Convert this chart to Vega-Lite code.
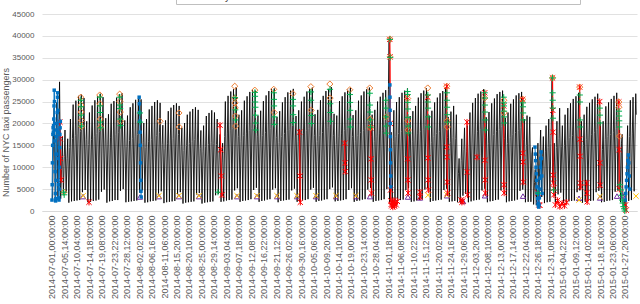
{
"$schema":"https://vega.github.io/schema/vega-lite/v6.json",
"autosize":{"type":"none"},
"width":595,"height":197,
"padding":{"left":42,"top":14,"right":3,"bottom":93},
"background":"white",
"config":{"view":{"stroke":null},"font":"Liberation Sans",
"legend":{"orient":"none","legendX":134,"legendY":-25,"direction":"horizontal","columns":7,"labelFontSize":10,"labelColor":"#404040","symbolSize":30,"symbolStrokeWidth":1,"padding":2,"strokeColor":"#bfbfbf","fillColor":"#ffffff","columnPadding":10,"labelOffset":3}},
"datasets":{
"main":[{"h":5,"v":2300},{"h":13,"v":16200},{"h":19,"v":23500},{"h":29,"v":2400},{"h":37,"v":17000},{"h":43,"v":24800},{"h":53,"v":2500},{"h":61,"v":17800},{"h":67,"v":29500},{"h":77,"v":2800},{"h":85,"v":9500},{"h":91,"v":17000},{"h":101,"v":4000},{"h":109,"v":12500},{"h":115,"v":18500},{"h":125,"v":4200},{"h":133,"v":12000},{"h":139,"v":16500},{"h":149,"v":1900},{"h":157,"v":14500},{"h":163,"v":21000},
{"h":173,"v":2200},{"h":181,"v":16600},{"h":187,"v":24300},{"h":197,"v":2300},{"h":205,"v":17200},{"h":211,"v":25200},{"h":221,"v":2400},{"h":229,"v":17600},{"h":235,"v":26300},{"h":245,"v":2500},{"h":253,"v":18200},{"h":259,"v":26600},{"h":269,"v":4300},{"h":277,"v":19000},{"h":283,"v":25800},{"h":293,"v":4800},{"h":301,"v":16300},{"h":307,"v":20500},{"h":317,"v":2000},{"h":325,"v":15200},{"h":331,"v":22500},
{"h":341,"v":2100},{"h":349,"v":16400},{"h":355,"v":24100},{"h":365,"v":2300},{"h":373,"v":17100},{"h":379,"v":25300},{"h":389,"v":2400},{"h":397,"v":17700},{"h":403,"v":26200},{"h":413,"v":2600},{"h":421,"v":18100},{"h":427,"v":26800},{"h":437,"v":4400},{"h":445,"v":19100},{"h":451,"v":26000},{"h":461,"v":4900},{"h":469,"v":16200},{"h":475,"v":21200},{"h":485,"v":1900},{"h":493,"v":15100},{"h":499,"v":22100},
{"h":509,"v":2200},{"h":517,"v":16700},{"h":523,"v":24500},{"h":533,"v":2300},{"h":541,"v":16900},{"h":547,"v":25100},{"h":557,"v":2500},{"h":565,"v":17400},{"h":571,"v":25900},{"h":581,"v":2500},{"h":589,"v":18000},{"h":595,"v":26700},{"h":605,"v":4600},{"h":613,"v":19200},{"h":619,"v":26900},{"h":629,"v":5000},{"h":637,"v":16000},{"h":643,"v":20700},{"h":653,"v":2000},{"h":661,"v":14800},{"h":667,"v":21800},
{"h":677,"v":2100},{"h":685,"v":16100},{"h":691,"v":23700},{"h":701,"v":2200},{"h":709,"v":16600},{"h":715,"v":24600},{"h":725,"v":2300},{"h":733,"v":17100},{"h":739,"v":25400},{"h":749,"v":2400},{"h":757,"v":17500},{"h":763,"v":25700},{"h":773,"v":4200},{"h":781,"v":18300},{"h":787,"v":25500},{"h":797,"v":4700},{"h":805,"v":15700},{"h":811,"v":20100},{"h":821,"v":1900},{"h":829,"v":14500},{"h":835,"v":21000},
{"h":845,"v":2000},{"h":853,"v":15800},{"h":859,"v":23200},{"h":869,"v":2200},{"h":877,"v":16300},{"h":883,"v":24000},{"h":893,"v":2300},{"h":901,"v":16900},{"h":907,"v":24900},{"h":917,"v":2400},{"h":925,"v":17200},{"h":931,"v":25300},{"h":941,"v":4000},{"h":949,"v":17900},{"h":955,"v":24700},{"h":965,"v":4500},{"h":973,"v":15200},{"h":979,"v":19600},{"h":989,"v":1800},{"h":997,"v":14200},{"h":1003,"v":20700},
{"h":1013,"v":2000},{"h":1021,"v":15500},{"h":1027,"v":22800},{"h":1037,"v":2100},{"h":1045,"v":16000},{"h":1051,"v":23600},{"h":1061,"v":2200},{"h":1069,"v":16500},{"h":1075,"v":24200},{"h":1085,"v":2300},{"h":1093,"v":16900},{"h":1099,"v":24600},{"h":1109,"v":3900},{"h":1117,"v":17500},{"h":1123,"v":24000},{"h":1133,"v":4300},{"h":1141,"v":14800},{"h":1147,"v":19000},{"h":1157,"v":1700},{"h":1165,"v":13800},{"h":1171,"v":20100},
{"h":1181,"v":1900},{"h":1189,"v":15000},{"h":1195,"v":22000},{"h":1205,"v":2000},{"h":1213,"v":15400},{"h":1219,"v":22700},{"h":1229,"v":2100},{"h":1237,"v":15900},{"h":1243,"v":23300},{"h":1253,"v":2200},{"h":1261,"v":16300},{"h":1267,"v":23700},{"h":1277,"v":3800},{"h":1285,"v":16900},{"h":1291,"v":23100},{"h":1301,"v":4100},{"h":1309,"v":14300},{"h":1315,"v":18400},{"h":1325,"v":1700},{"h":1333,"v":13500},{"h":1339,"v":19500},
{"h":1349,"v":1900},{"h":1357,"v":14800},{"h":1363,"v":21700},{"h":1373,"v":2000},{"h":1381,"v":15200},{"h":1387,"v":22400},{"h":1397,"v":2100},{"h":1405,"v":15600},{"h":1411,"v":23000},{"h":1421,"v":2200},{"h":1429,"v":15500},{"h":1435,"v":22500},{"h":1445,"v":3600},{"h":1453,"v":15200},{"h":1459,"v":21000},{"h":1469,"v":3900},{"h":1477,"v":13000},{"h":1483,"v":17500},{"h":1493,"v":2100},{"h":1501,"v":11000},{"h":1507,"v":15500},
{"h":1517,"v":2200},{"h":1525,"v":17000},{"h":1531,"v":25000},{"h":1541,"v":2400},{"h":1549,"v":17800},{"h":1555,"v":26300},{"h":1565,"v":2500},{"h":1573,"v":18300},{"h":1579,"v":27300},{"h":1589,"v":2600},{"h":1597,"v":18800},{"h":1603,"v":27800},{"h":1613,"v":4700},{"h":1621,"v":19700},{"h":1627,"v":28300},{"h":1637,"v":5200},{"h":1645,"v":17000},{"h":1651,"v":22000},{"h":1661,"v":2100},{"h":1669,"v":15800},{"h":1675,"v":23000},
{"h":1685,"v":2300},{"h":1693,"v":17300},{"h":1699,"v":25200},{"h":1709,"v":2400},{"h":1717,"v":17800},{"h":1723,"v":26200},{"h":1733,"v":2500},{"h":1741,"v":18400},{"h":1747,"v":27200},{"h":1757,"v":2700},{"h":1765,"v":18900},{"h":1771,"v":27700},{"h":1781,"v":4800},{"h":1789,"v":19800},{"h":1795,"v":27500},{"h":1805,"v":5300},{"h":1813,"v":17100},{"h":1819,"v":21800},{"h":1829,"v":2100},{"h":1837,"v":15700},{"h":1843,"v":22900},
{"h":1853,"v":2300},{"h":1861,"v":17200},{"h":1867,"v":25100},{"h":1877,"v":2400},{"h":1885,"v":17900},{"h":1891,"v":26400},{"h":1901,"v":2600},{"h":1909,"v":18500},{"h":1915,"v":27400},{"h":1925,"v":2700},{"h":1933,"v":18800},{"h":1939,"v":27900},{"h":1949,"v":4900},{"h":1957,"v":19600},{"h":1963,"v":28000},{"h":1973,"v":5200},{"h":1981,"v":16800},{"h":1987,"v":21500},{"h":1997,"v":2000},{"h":2005,"v":15600},{"h":2011,"v":22800},
{"h":2021,"v":2300},{"h":2029,"v":17000},{"h":2035,"v":24800},{"h":2045,"v":2400},{"h":2053,"v":17700},{"h":2059,"v":26000},{"h":2069,"v":2500},{"h":2077,"v":18300},{"h":2083,"v":27100},{"h":2093,"v":2600},{"h":2101,"v":18700},{"h":2107,"v":27500},{"h":2117,"v":4700},{"h":2125,"v":19500},{"h":2131,"v":27900},{"h":2141,"v":5100},{"h":2149,"v":16900},{"h":2155,"v":21700},{"h":2165,"v":2100},{"h":2173,"v":15800},{"h":2179,"v":23000},
{"h":2189,"v":2200},{"h":2197,"v":17100},{"h":2203,"v":25000},{"h":2213,"v":2400},{"h":2221,"v":17800},{"h":2227,"v":26100},{"h":2237,"v":2500},{"h":2245,"v":18400},{"h":2251,"v":27300},{"h":2261,"v":2700},{"h":2269,"v":18900},{"h":2275,"v":27800},{"h":2285,"v":4900},{"h":2293,"v":19700},{"h":2299,"v":28200},{"h":2309,"v":5300},{"h":2317,"v":17200},{"h":2323,"v":22100},{"h":2333,"v":2100},{"h":2341,"v":15900},{"h":2347,"v":23100},
{"h":2357,"v":2300},{"h":2365,"v":17200},{"h":2371,"v":25300},{"h":2381,"v":2400},{"h":2389,"v":17900},{"h":2395,"v":26300},{"h":2405,"v":2600},{"h":2413,"v":18500},{"h":2419,"v":27400},{"h":2429,"v":2700},{"h":2437,"v":19000},{"h":2443,"v":27900},{"h":2453,"v":5000},{"h":2461,"v":19800},{"h":2467,"v":28300},{"h":2477,"v":5400},{"h":2485,"v":17300},{"h":2491,"v":22200},{"h":2501,"v":2200},{"h":2509,"v":15200},{"h":2515,"v":21800},
{"h":2525,"v":2300},{"h":2533,"v":17100},{"h":2539,"v":25100},{"h":2549,"v":2400},{"h":2557,"v":17800},{"h":2563,"v":26200},{"h":2573,"v":2500},{"h":2581,"v":18400},{"h":2587,"v":27100},{"h":2597,"v":2700},{"h":2605,"v":18800},{"h":2611,"v":27700},{"h":2621,"v":4800},{"h":2629,"v":19600},{"h":2635,"v":28100},{"h":2645,"v":5200},{"h":2653,"v":17000},{"h":2659,"v":21900},{"h":2669,"v":2100},{"h":2677,"v":15800},{"h":2683,"v":23000},
{"h":2693,"v":2300},{"h":2701,"v":17200},{"h":2707,"v":25200},{"h":2717,"v":2400},{"h":2725,"v":17900},{"h":2731,"v":26400},{"h":2741,"v":2600},{"h":2749,"v":18400},{"h":2755,"v":27300},{"h":2765,"v":2700},{"h":2773,"v":18900},{"h":2779,"v":27800},{"h":2789,"v":4900},{"h":2797,"v":19800},{"h":2803,"v":28200},{"h":2813,"v":5300},{"h":2821,"v":17100},{"h":2827,"v":22000},{"h":2837,"v":2100},{"h":2845,"v":15900},{"h":2851,"v":23100},
{"h":2861,"v":2300},{"h":2869,"v":17100},{"h":2875,"v":25000},{"h":2885,"v":2400},{"h":2893,"v":17800},{"h":2899,"v":26100},{"h":2909,"v":2500},{"h":2917,"v":18300},{"h":2923,"v":27000},{"h":2933,"v":2700},{"h":2941,"v":18800},{"h":2947,"v":27600},{"h":2957,"v":5000},{"h":2965,"v":19600},{"h":2971,"v":27800},{"h":2977,"v":39200},{"h":2978,"v":35200},{"h":2981,"v":2000},{"h":2989,"v":13500},{"h":2995,"v":18000},{"h":3005,"v":2000},{"h":3013,"v":15800},{"h":3019,"v":23000},
{"h":3029,"v":2300},{"h":3037,"v":17000},{"h":3043,"v":24900},{"h":3053,"v":2400},{"h":3061,"v":17700},{"h":3067,"v":26000},{"h":3077,"v":2500},{"h":3085,"v":18200},{"h":3091,"v":27000},{"h":3101,"v":2600},{"h":3109,"v":18700},{"h":3115,"v":27500},{"h":3125,"v":4800},{"h":3133,"v":19500},{"h":3139,"v":28000},{"h":3149,"v":5200},{"h":3157,"v":16900},{"h":3163,"v":21700},{"h":3173,"v":2100},{"h":3181,"v":15800},{"h":3187,"v":22800},
{"h":3197,"v":2200},{"h":3205,"v":16200},{"h":3211,"v":24000},{"h":3221,"v":2400},{"h":3229,"v":17600},{"h":3235,"v":25900},{"h":3245,"v":2500},{"h":3253,"v":18200},{"h":3259,"v":26900},{"h":3269,"v":2700},{"h":3277,"v":18700},{"h":3283,"v":27500},{"h":3293,"v":4900},{"h":3301,"v":19600},{"h":3307,"v":28000},{"h":3317,"v":5200},{"h":3325,"v":16900},{"h":3331,"v":21800},{"h":3341,"v":2100},{"h":3349,"v":15700},{"h":3355,"v":22900},
{"h":3365,"v":2300},{"h":3373,"v":17000},{"h":3379,"v":24800},{"h":3389,"v":2400},{"h":3397,"v":17700},{"h":3403,"v":25900},{"h":3413,"v":2500},{"h":3421,"v":18200},{"h":3427,"v":26900},{"h":3437,"v":2600},{"h":3445,"v":18700},{"h":3451,"v":27400},{"h":3461,"v":4800},{"h":3469,"v":19500},{"h":3475,"v":28300},{"h":3485,"v":5100},{"h":3493,"v":16800},{"h":3499,"v":21500},{"h":3509,"v":2100},{"h":3517,"v":15600},{"h":3523,"v":22700},
{"h":3533,"v":2200},{"h":3541,"v":16800},{"h":3547,"v":24000},{"h":3557,"v":2300},{"h":3565,"v":16500},{"h":3571,"v":22000},{"h":3581,"v":2000},{"h":3589,"v":8500},{"h":3595,"v":12000},{"h":3605,"v":1900},{"h":3613,"v":11500},{"h":3619,"v":16500},{"h":3629,"v":3500},{"h":3637,"v":14000},{"h":3643,"v":19000},{"h":3653,"v":3900},{"h":3661,"v":13500},{"h":3667,"v":19500},{"h":3677,"v":2000},{"h":3685,"v":15300},{"h":3691,"v":22500},
{"h":3701,"v":2200},{"h":3709,"v":16900},{"h":3715,"v":24700},{"h":3725,"v":2400},{"h":3733,"v":17600},{"h":3739,"v":25800},{"h":3749,"v":2500},{"h":3757,"v":18100},{"h":3763,"v":26800},{"h":3773,"v":2600},{"h":3781,"v":18600},{"h":3787,"v":27300},{"h":3797,"v":4700},{"h":3805,"v":19400},{"h":3811,"v":27800},{"h":3821,"v":5100},{"h":3829,"v":16700},{"h":3835,"v":21400},{"h":3845,"v":2000},{"h":3853,"v":15500},{"h":3859,"v":22600},
{"h":3869,"v":2200},{"h":3877,"v":16900},{"h":3883,"v":24600},{"h":3893,"v":2300},{"h":3901,"v":17500},{"h":3907,"v":25700},{"h":3917,"v":2500},{"h":3925,"v":18100},{"h":3931,"v":26700},{"h":3941,"v":2600},{"h":3949,"v":18600},{"h":3955,"v":27200},{"h":3965,"v":4700},{"h":3973,"v":19300},{"h":3979,"v":27500},{"h":3989,"v":5000},{"h":3997,"v":16600},{"h":4003,"v":21300},{"h":4013,"v":2000},{"h":4021,"v":15400},{"h":4027,"v":22500},
{"h":4037,"v":2200},{"h":4045,"v":16800},{"h":4051,"v":24500},{"h":4061,"v":2300},{"h":4069,"v":17400},{"h":4075,"v":25500},{"h":4085,"v":2400},{"h":4093,"v":17900},{"h":4099,"v":26400},{"h":4109,"v":2600},{"h":4117,"v":18400},{"h":4123,"v":26900},{"h":4133,"v":4600},{"h":4141,"v":19100},{"h":4147,"v":27200},{"h":4157,"v":4900},{"h":4165,"v":16400},{"h":4171,"v":21000},{"h":4181,"v":2000},{"h":4189,"v":15000},{"h":4195,"v":21800},
{"h":4205,"v":2100},{"h":4213,"v":15500},{"h":4219,"v":21500},{"h":4229,"v":2100},{"h":4237,"v":13000},{"h":4243,"v":14500},{"h":4253,"v":1500},{"h":4261,"v":6500},{"h":4267,"v":9500},{"h":4277,"v":1300},{"h":4285,"v":10500},{"h":4291,"v":15500},{"h":4301,"v":2800},{"h":4309,"v":13000},{"h":4315,"v":18500},{"h":4325,"v":3200},{"h":4333,"v":12500},{"h":4339,"v":17000},{"h":4349,"v":1800},{"h":4357,"v":13500},{"h":4363,"v":19500},
{"h":4373,"v":2000},{"h":4381,"v":14500},{"h":4387,"v":21000},{"h":4397,"v":2100},{"h":4405,"v":15500},{"h":4411,"v":22000},{"h":4416,"v":30500},{"h":4417,"v":27000},{"h":4421,"v":6500},{"h":4429,"v":11000},{"h":4435,"v":15500},{"h":4445,"v":2000},{"h":4453,"v":14500},{"h":4459,"v":20500},{"h":4469,"v":3800},{"h":4477,"v":16500},{"h":4483,"v":23500},{"h":4493,"v":4200},{"h":4501,"v":14800},{"h":4507,"v":19500},{"h":4517,"v":1900},{"h":4525,"v":15000},{"h":4531,"v":22000},
{"h":4541,"v":2000},{"h":4549,"v":16200},{"h":4555,"v":23500},{"h":4565,"v":2200},{"h":4573,"v":16800},{"h":4579,"v":24600},{"h":4589,"v":2300},{"h":4597,"v":17300},{"h":4603,"v":25600},{"h":4613,"v":2400},{"h":4621,"v":17800},{"h":4627,"v":26200},{"h":4637,"v":4300},{"h":4645,"v":18700},{"h":4651,"v":27000},{"h":4661,"v":4700},{"h":4669,"v":16000},{"h":4675,"v":20500},{"h":4685,"v":1900},{"h":4693,"v":15000},{"h":4699,"v":22000},
{"h":4709,"v":2100},{"h":4717,"v":16300},{"h":4723,"v":23800},{"h":4733,"v":2200},{"h":4741,"v":16900},{"h":4747,"v":24700},{"h":4757,"v":2300},{"h":4765,"v":17400},{"h":4771,"v":25500},{"h":4781,"v":2400},{"h":4789,"v":17900},{"h":4795,"v":26100},{"h":4805,"v":4300},{"h":4813,"v":18600},{"h":4819,"v":26800},{"h":4829,"v":4600},{"h":4837,"v":15800},{"h":4843,"v":20300},{"h":4853,"v":2000},{"h":4861,"v":14000},{"h":4867,"v":20500},
{"h":4877,"v":2100},{"h":4885,"v":16400},{"h":4891,"v":23900},{"h":4901,"v":2300},{"h":4909,"v":17000},{"h":4915,"v":24800},{"h":4925,"v":2400},{"h":4933,"v":17500},{"h":4939,"v":25600},{"h":4949,"v":2500},{"h":4957,"v":18000},{"h":4963,"v":26300},{"h":4973,"v":4400},{"h":4981,"v":18800},{"h":4987,"v":27000},{"h":4997,"v":4700},{"h":5005,"v":16000},{"h":5011,"v":20800},{"h":5021,"v":2000},{"h":5029,"v":15500},{"h":5035,"v":17500},{"h":5039,"v":6000},
{"h":5045,"v":400},{"h":5053,"v":1200},{"h":5059,"v":2500},{"h":5069,"v":900},{"h":5077,"v":13000},{"h":5083,"v":19500},{"h":5093,"v":2300},{"h":5101,"v":17000},{"h":5107,"v":25300},{"h":5117,"v":2500},{"h":5125,"v":17800},{"h":5131,"v":26000},{"h":5141,"v":4500},{"h":5149,"v":18500},{"h":5155,"v":26800},{"h":5159,"v":22000}],
"lo":[{"h":274,"v":3300,"m":"RePAD"},{"h":777,"v":3200,"m":"RePAD"},{"h":945,"v":3300,"m":"RePAD"},{"h":1121,"v":3300,"m":"RePAD"},{"h":1298,"v":3300,"m":"RePAD"},{"h":1634,"v":3300,"m":"RePAD"},{"h":1810,"v":3300,"m":"RePAD"},{"h":1987,"v":3300,"m":"RePAD"},{"h":2163,"v":3300,"m":"RePAD"},{"h":2331,"v":3300,"m":"RePAD"},{"h":2508,"v":3300,"m":"RePAD"},{"h":2684,"v":3300,"m":"RePAD"},{"h":2808,"v":3300,"m":"RePAD"},{"h":3143,"v":3200,"m":"RePAD"},{"h":3250,"v":3000,"m":"RePAD"},{"h":3488,"v":3500,"m":"RePAD"},{"h":3630,"v":2200,"m":"RePAD"},{"h":3823,"v":3500,"m":"RePAD"},{"h":4159,"v":3400,"m":"RePAD"},{"h":4654,"v":2900,"m":"RePAD"},{"h":4839,"v":3000,"m":"RePAD"},{"h":4989,"v":3400,"m":"RePAD"},{"h":5040,"v":3500,"m":"RePAD"},
{"h":276,"v":3500,"m":"ReRe"},{"h":945,"v":3500,"m":"ReRe"},{"h":1121,"v":3500,"m":"ReRe"},{"h":1298,"v":3500,"m":"ReRe"},{"h":1634,"v":3500,"m":"ReRe"},{"h":1810,"v":3500,"m":"ReRe"},{"h":1987,"v":3500,"m":"ReRe"},{"h":2163,"v":3500,"m":"ReRe"},{"h":2331,"v":3500,"m":"ReRe"},{"h":2508,"v":3500,"m":"ReRe"},{"h":2684,"v":3500,"m":"ReRe"},{"h":3320,"v":3600,"m":"ReRe"},{"h":3488,"v":3700,"m":"ReRe"},{"h":4654,"v":2500,"m":"ReRe"},{"h":4839,"v":3300,"m":"ReRe"},{"h":5157,"v":3400,"m":"ReRe"}],
"sarad":[{"h":70,"v":20300,"s":1,"m":"SARAD"},{"h":73,"v":16500,"s":1,"m":"SARAD"},{"h":76,"v":12000,"s":1,"m":"SARAD"},{"h":80,"v":7100,"s":1,"m":"SARAD"},
{"h":327,"v":2000,"s":2,"m":"SARAD"},
{"h":1484,"v":19600,"s":3,"m":"SARAD"},{"h":1490,"v":14000,"s":3,"m":"SARAD"},{"h":1496,"v":8000,"s":3,"m":"SARAD"},{"h":1501,"v":3700,"s":3,"m":"SARAD"},
{"h":2186,"v":18000,"s":4,"m":"SARAD"},{"h":2190,"v":8000,"s":4,"m":"SARAD"},{"h":2193,"v":2000,"s":4,"m":"SARAD"},
{"h":2585,"v":15500,"s":5,"m":"SARAD"},{"h":2588,"v":11000,"s":5,"m":"SARAD"},{"h":2590,"v":9000,"s":5,"m":"SARAD"},
{"h":2815,"v":19000,"s":6,"m":"SARAD"},{"h":2817,"v":11900,"s":6,"m":"SARAD"},{"h":2819,"v":7100,"s":6,"m":"SARAD"},{"h":2821,"v":4100,"s":6,"m":"SARAD"},
{"h":2983,"v":39200,"s":7,"m":"SARAD"},{"h":2985,"v":35200,"s":7,"m":"SARAD"},{"h":2988,"v":20000,"s":7,"m":"SARAD"},{"h":2990,"v":4800,"s":7,"m":"SARAD"},{"h":2992,"v":2300,"s":7,"m":"SARAD"},
{"h":2995,"v":1500,"s":8,"m":"SARAD"},{"h":3000,"v":1200,"s":8,"m":"SARAD"},{"h":3005,"v":2000,"s":8,"m":"SARAD"},{"h":3010,"v":900,"s":8,"m":"SARAD"},{"h":3015,"v":1600,"s":8,"m":"SARAD"},{"h":3020,"v":2400,"s":8,"m":"SARAD"},{"h":3025,"v":1100,"s":8,"m":"SARAD"},{"h":3030,"v":1900,"s":8,"m":"SARAD"},{"h":3040,"v":1400,"s":8,"m":"SARAD"},{"h":3050,"v":2200,"s":8,"m":"SARAD"},
{"h":3138,"v":25900,"s":9,"m":"SARAD"},{"h":3141,"v":11900,"s":9,"m":"SARAD"},{"h":3143,"v":7100,"s":9,"m":"SARAD"},{"h":3145,"v":4100,"s":9,"m":"SARAD"},
{"h":3250,"v":4300,"s":10,"m":"SARAD"},{"h":3252,"v":3200,"s":10,"m":"SARAD"},
{"h":3318,"v":26000,"s":11,"m":"SARAD"},{"h":3320,"v":12100,"s":11,"m":"SARAD"},{"h":3322,"v":7100,"s":11,"m":"SARAD"},{"h":3324,"v":4800,"s":11,"m":"SARAD"},
{"h":3486,"v":28500,"s":12,"m":"SARAD"},{"h":3487,"v":14600,"s":12,"m":"SARAD"},{"h":3489,"v":12300,"s":12,"m":"SARAD"},{"h":3491,"v":6600,"s":12,"m":"SARAD"},{"h":3493,"v":4100,"s":12,"m":"SARAD"},
{"h":3612,"v":2500,"s":13,"m":"SARAD"},{"h":3620,"v":2000,"s":13,"m":"SARAD"},{"h":3628,"v":2300,"s":13,"m":"SARAD"},
{"h":3665,"v":20300,"s":14,"m":"SARAD"},{"h":3667,"v":8900,"s":14,"m":"SARAD"},{"h":3669,"v":3700,"s":14,"m":"SARAD"},
{"h":3753,"v":12300,"s":15,"m":"SARAD"},
{"h":3821,"v":27000,"s":16,"m":"SARAD"},{"h":3823,"v":11600,"s":16,"m":"SARAD"},{"h":3825,"v":7100,"s":16,"m":"SARAD"},{"h":3827,"v":4100,"s":16,"m":"SARAD"},
{"h":3989,"v":24000,"s":17,"m":"SARAD"},{"h":3991,"v":6000,"s":17,"m":"SARAD"},{"h":3993,"v":4100,"s":17,"m":"SARAD"},
{"h":4157,"v":25500,"s":18,"m":"SARAD"},{"h":4158,"v":13200,"s":18,"m":"SARAD"},{"h":4160,"v":11200,"s":18,"m":"SARAD"},{"h":4162,"v":6600,"s":18,"m":"SARAD"},
{"h":4292,"v":4100,"s":19,"m":"SARAD"},{"h":4300,"v":1400,"s":19,"m":"SARAD"},{"h":4309,"v":1300,"s":19,"m":"SARAD"},
{"h":4420,"v":30400,"s":20,"m":"SARAD"},{"h":4422,"v":23000,"s":20,"m":"SARAD"},{"h":4424,"v":18000,"s":20,"m":"SARAD"},{"h":4426,"v":8200,"s":20,"m":"SARAD"},{"h":4428,"v":6400,"s":20,"m":"SARAD"},{"h":4430,"v":5200,"s":20,"m":"SARAD"},{"h":4432,"v":3700,"s":20,"m":"SARAD"},
{"h":4445,"v":1400,"s":21,"m":"SARAD"},{"h":4465,"v":2400,"s":21,"m":"SARAD"},{"h":4485,"v":1000,"s":21,"m":"SARAD"},{"h":4505,"v":1800,"s":21,"m":"SARAD"},{"h":4525,"v":1200,"s":21,"m":"SARAD"},{"h":4545,"v":2000,"s":21,"m":"SARAD"},
{"h":4660,"v":28300,"s":22,"m":"SARAD"},{"h":4662,"v":16400,"s":22,"m":"SARAD"},{"h":4664,"v":12500,"s":22,"m":"SARAD"},{"h":4666,"v":6400,"s":22,"m":"SARAD"},{"h":4668,"v":5500,"s":22,"m":"SARAD"},
{"h":4722,"v":6400,"s":23,"m":"SARAD"},{"h":4724,"v":4100,"s":23,"m":"SARAD"},{"h":4726,"v":2100,"s":23,"m":"SARAD"},
{"h":4837,"v":25000,"s":24,"m":"SARAD"},{"h":4839,"v":11000,"s":24,"m":"SARAD"},{"h":4841,"v":5900,"s":24,"m":"SARAD"},
{"h":5005,"v":24900,"s":25,"m":"SARAD"},{"h":5008,"v":14000,"s":25,"m":"SARAD"},{"h":5010,"v":5000,"s":25,"m":"SARAD"},
{"h":5065,"v":1400,"s":26,"m":"SARAD"},{"h":5070,"v":200,"s":26,"m":"SARAD"}],
"gv":[{"h":0,"v":2500,"s":1},{"h":2,"v":6000,"s":1},{"h":4,"v":11000,"s":1},{"h":6,"v":15000,"s":1},{"h":8,"v":17500,"s":1},{"h":10,"v":19000,"s":1},{"h":12,"v":18000,"s":1},{"h":14,"v":19500,"s":1},{"h":16,"v":21000,"s":1},{"h":18,"v":24000,"s":1},{"h":20,"v":27600,"s":1},{"h":22,"v":25000,"s":1},{"h":24,"v":20000,"s":1},{"h":26,"v":16000,"s":1},{"h":28,"v":9000,"s":1},{"h":30,"v":4000,"s":1},{"h":32,"v":2300,"s":1},{"h":34,"v":2800,"s":1},{"h":36,"v":7000,"s":1},{"h":38,"v":13000,"s":1},{"h":40,"v":17000,"s":1},{"h":42,"v":18500,"s":1},{"h":44,"v":20000,"s":1},{"h":46,"v":22500,"s":1},{"h":48,"v":26000,"s":1},{"h":50,"v":27000,"s":1},{"h":52,"v":23000,"s":1},{"h":54,"v":18000,"s":1},{"h":56,"v":12000,"s":1},{"h":58,"v":6000,"s":1},{"h":60,"v":3000,"s":1},{"h":62,"v":2500,"s":1},{"h":64,"v":5000,"s":1},{"h":66,"v":10000,"s":1},{"h":68,"v":14500,"s":1},{"h":70,"v":17500,"s":1},{"h":72,"v":19000,"s":1},{"h":74,"v":20500,"s":1},
{"h":770,"v":26000,"s":2},{"h":772,"v":24500,"s":2},{"h":774,"v":22500,"s":2},{"h":776,"v":20500,"s":2},{"h":778,"v":18000,"s":2},{"h":780,"v":15000,"s":2},{"h":782,"v":11000,"s":2},{"h":784,"v":7000,"s":2},{"h":786,"v":4500,"s":2},{"h":788,"v":3200,"s":2},
{"h":2984,"v":28800,"s":3},{"h":2985,"v":26000,"s":3},{"h":2986,"v":23000,"s":3},{"h":2987,"v":20000,"s":3},{"h":2988,"v":17000,"s":3},{"h":2989,"v":14000,"s":3},{"h":2990,"v":11000,"s":3},{"h":2991,"v":8000,"s":3},{"h":2992,"v":5500,"s":3},
{"h":4265,"v":14600,"s":4},{"h":4268,"v":13000,"s":4},{"h":4271,"v":11500,"s":4},{"h":4274,"v":10000,"s":4},{"h":4277,"v":8500,"s":4},{"h":4280,"v":7000,"s":4},{"h":4283,"v":5500,"s":4},{"h":4286,"v":4000,"s":4},{"h":4289,"v":2800,"s":4},{"h":4292,"v":1800,"s":4},{"h":4295,"v":1200,"s":4},{"h":4298,"v":900,"s":4},{"h":4301,"v":1500,"s":4},{"h":4304,"v":3000,"s":4},{"h":4307,"v":5000,"s":4},{"h":4310,"v":7500,"s":4},{"h":4313,"v":10000,"s":4},{"h":4316,"v":12000,"s":4},{"h":4319,"v":13500,"s":4},{"h":4322,"v":12000,"s":4},{"h":4325,"v":8000,"s":4},{"h":4328,"v":4000,"s":4},
{"h":5062,"v":2500,"s":5},{"h":5066,"v":4000,"s":5},{"h":5070,"v":5500,"s":5},{"h":5074,"v":7000,"s":5},{"h":5078,"v":8500,"s":5},{"h":5082,"v":10000,"s":5},{"h":5086,"v":11500,"s":5},{"h":5090,"v":12800,"s":5},{"h":5094,"v":11000,"s":5},{"h":5098,"v":8000,"s":5},{"h":5102,"v":5000,"s":5}],
"og":[{"h":254,"v":26000,"m":"RDV"},{"h":256,"v":24200,"m":"RDV"},{"h":258,"v":22600,"m":"RDV"},{"h":260,"v":20700,"m":"RDV"},{"h":262,"v":19300,"m":"RDV"},{"h":422,"v":26500,"m":"RDV"},{"h":424,"v":24500,"m":"RDV"},{"h":427,"v":21000,"m":"RDV"},{"h":429,"v":19200,"m":"RDV"},{"h":598,"v":26700,"m":"RDV"},{"h":600,"v":25000,"m":"RDV"},{"h":603,"v":22600,"m":"RDV"},{"h":605,"v":20500,"m":"RDV"},{"h":954,"v":20500,"m":"RDV"},{"h":1121,"v":22400,"m":"RDV"},{"h":1123,"v":19200,"m":"RDV"},{"h":1614,"v":28500,"m":"RDV"},{"h":1615,"v":25800,"m":"RDV"},{"h":1617,"v":24700,"m":"RDV"},{"h":1618,"v":23600,"m":"RDV"},{"h":1620,"v":21700,"m":"RDV"},{"h":1622,"v":19400,"m":"RDV"},{"h":1791,"v":27600,"m":"RDV"},{"h":1958,"v":27800,"m":"RDV"},{"h":1962,"v":22500,"m":"RDV"},{"h":2127,"v":26800,"m":"RDV"},{"h":2286,"v":28400,"m":"RDV"},{"h":2289,"v":23000,"m":"RDV"},{"h":2454,"v":29000,"m":"RDV"},{"h":2456,"v":25800,"m":"RDV"},{"h":2630,"v":27700,"m":"RDV"},{"h":2806,"v":28100,"m":"RDV"},{"h":2810,"v":21000,"m":"RDV"},{"h":2812,"v":19000,"m":"RDV"},{"h":2951,"v":21500,"m":"RDV"},{"h":2984,"v":39300,"m":"RDV"},{"h":2986,"v":35200,"m":"RDV"},{"h":3141,"v":25700,"m":"RDV"},{"h":3144,"v":20600,"m":"RDV"},{"h":3146,"v":18500,"m":"RDV"},{"h":3318,"v":28100,"m":"RDV"},{"h":3486,"v":28500,"m":"RDV"},{"h":3490,"v":20600,"m":"RDV"},{"h":3491,"v":19200,"m":"RDV"},{"h":3822,"v":25800,"m":"RDV"},{"h":3990,"v":25300,"m":"RDV"},{"h":3993,"v":22400,"m":"RDV"},{"h":4157,"v":25500,"m":"RDV"},{"h":4420,"v":30400,"m":"RDV"},{"h":4660,"v":28300,"m":"RDV"},{"h":5005,"v":24900,"m":"RDV"},{"h":5006,"v":23700,"m":"RDV"},{"h":5011,"v":17100,"m":"RDV"},{"h":106,"v":4300,"m":"RDV"},
{"h":104,"v":4300,"m":"ADV"},{"h":108,"v":3700,"m":"ADV"},{"h":1466,"v":4300,"m":"ADV"},{"h":255,"v":25300,"m":"ADV"},{"h":257,"v":23800,"m":"ADV"},{"h":259,"v":21900,"m":"ADV"},{"h":261,"v":19400,"m":"ADV"},{"h":423,"v":26000,"m":"ADV"},{"h":425,"v":24000,"m":"ADV"},{"h":426,"v":22500,"m":"ADV"},{"h":428,"v":20300,"m":"ADV"},{"h":430,"v":19000,"m":"ADV"},{"h":599,"v":26000,"m":"ADV"},{"h":601,"v":24200,"m":"ADV"},{"h":602,"v":23400,"m":"ADV"},{"h":604,"v":21000,"m":"ADV"},{"h":606,"v":19500,"m":"ADV"},{"h":777,"v":22400,"m":"ADV"},{"h":779,"v":20300,"m":"ADV"},{"h":1616,"v":25900,"m":"ADV"},{"h":1619,"v":23100,"m":"ADV"},{"h":1621,"v":20800,"m":"ADV"},{"h":1792,"v":27100,"m":"ADV"},{"h":1793,"v":26200,"m":"ADV"},{"h":1794,"v":24900,"m":"ADV"},{"h":1796,"v":23700,"m":"ADV"},{"h":1797,"v":21900,"m":"ADV"},{"h":1799,"v":20100,"m":"ADV"},{"h":1800,"v":18500,"m":"ADV"},{"h":1959,"v":27000,"m":"ADV"},{"h":1960,"v":25500,"m":"ADV"},{"h":1961,"v":24000,"m":"ADV"},{"h":1963,"v":21500,"m":"ADV"},{"h":1964,"v":19800,"m":"ADV"},{"h":2128,"v":25500,"m":"ADV"},{"h":2129,"v":24000,"m":"ADV"},{"h":2130,"v":22000,"m":"ADV"},{"h":2131,"v":20200,"m":"ADV"},{"h":2287,"v":27200,"m":"ADV"},{"h":2288,"v":25300,"m":"ADV"},{"h":2290,"v":21800,"m":"ADV"},{"h":2291,"v":20000,"m":"ADV"},{"h":2455,"v":27800,"m":"ADV"},{"h":2457,"v":24500,"m":"ADV"},{"h":2458,"v":22500,"m":"ADV"},{"h":2459,"v":20500,"m":"ADV"},{"h":2631,"v":26600,"m":"ADV"},{"h":2632,"v":24800,"m":"ADV"},{"h":2633,"v":23000,"m":"ADV"},{"h":2634,"v":21000,"m":"ADV"},{"h":2635,"v":19200,"m":"ADV"},{"h":2807,"v":26900,"m":"ADV"},{"h":2808,"v":24200,"m":"ADV"},{"h":2809,"v":22600,"m":"ADV"},{"h":2811,"v":20800,"m":"ADV"},{"h":2813,"v":19200,"m":"ADV"},{"h":2948,"v":25300,"m":"ADV"},{"h":2949,"v":23500,"m":"ADV"},{"h":2950,"v":21500,"m":"ADV"},{"h":2952,"v":19400,"m":"ADV"},{"h":2953,"v":17800,"m":"ADV"},{"h":2984,"v":39200,"m":"ADV"},{"h":2986,"v":35100,"m":"ADV"},{"h":3140,"v":27300,"m":"ADV"},{"h":3141,"v":26600,"m":"ADV"},{"h":3142,"v":24800,"m":"ADV"},{"h":3143,"v":23300,"m":"ADV"},{"h":3144,"v":21400,"m":"ADV"},{"h":3145,"v":19400,"m":"ADV"},{"h":3146,"v":17800,"m":"ADV"},{"h":3319,"v":26500,"m":"ADV"},{"h":3320,"v":24900,"m":"ADV"},{"h":3321,"v":23500,"m":"ADV"},{"h":3322,"v":21500,"m":"ADV"},{"h":3323,"v":19200,"m":"ADV"},{"h":3487,"v":27000,"m":"ADV"},{"h":3488,"v":25300,"m":"ADV"},{"h":3489,"v":23700,"m":"ADV"},{"h":3490,"v":22000,"m":"ADV"},{"h":3491,"v":20300,"m":"ADV"},{"h":3821,"v":27000,"m":"ADV"},{"h":3822,"v":25800,"m":"ADV"},{"h":3823,"v":24200,"m":"ADV"},{"h":3824,"v":22600,"m":"ADV"},{"h":3825,"v":20800,"m":"ADV"},{"h":3826,"v":18500,"m":"ADV"},{"h":3989,"v":26000,"m":"ADV"},{"h":3990,"v":24700,"m":"ADV"},{"h":3991,"v":24000,"m":"ADV"},{"h":3992,"v":22800,"m":"ADV"},{"h":3993,"v":21500,"m":"ADV"},{"h":3994,"v":20100,"m":"ADV"},{"h":4158,"v":24700,"m":"ADV"},{"h":4159,"v":23800,"m":"ADV"},{"h":4160,"v":22400,"m":"ADV"},{"h":4161,"v":20800,"m":"ADV"},{"h":4292,"v":4100,"m":"ADV"},{"h":4420,"v":30400,"m":"ADV"},{"h":4421,"v":27000,"m":"ADV"},{"h":4422,"v":25300,"m":"ADV"},{"h":4423,"v":23500,"m":"ADV"},{"h":4424,"v":21200,"m":"ADV"},{"h":4430,"v":4800,"m":"ADV"},{"h":4661,"v":26500,"m":"ADV"},{"h":4662,"v":24900,"m":"ADV"},{"h":4664,"v":20800,"m":"ADV"},{"h":4665,"v":19200,"m":"ADV"},{"h":4838,"v":23500,"m":"ADV"},{"h":4839,"v":21900,"m":"ADV"},{"h":4840,"v":20100,"m":"ADV"},{"h":5007,"v":22800,"m":"ADV"},{"h":5008,"v":21700,"m":"ADV"},{"h":5009,"v":20600,"m":"ADV"},{"h":5010,"v":19200,"m":"ADV"},{"h":5016,"v":6000,"m":"ADV"},{"h":5022,"v":4800,"m":"ADV"},{"h":5028,"v":3600,"m":"ADV"},{"h":5034,"v":2500,"m":"ADV"},{"h":5040,"v":1800,"m":"ADV"},{"h":5046,"v":1000,"m":"ADV"},{"h":5052,"v":500,"m":"ADV"},{"h":5058,"v":0,"m":"ADV"}]
},
"encoding":{
"x":{"field":"h","type":"quantitative","title":null,"scale":{"domain":[-88,5166],"nice":false,"zero":false},
"axis":{"values":[0,110,220,330,440,550,660,770,880,990,1100,1210,1320,1430,1540,1650,1760,1870,1980,2090,2200,2310,2420,2530,2640,2750,2860,2970,3080,3190,3300,3410,3520,3630,3740,3850,3960,4070,4180,4290,4400,4510,4620,4730,4840,4950,5060],
"labelExpr":"utcFormat(utc(2014,6,1)+datum.value*3600000,'%Y-%m-%d,%H:%M:%S')","labelAngle":270,"labelAlign":"right","labelBaseline":"middle","labelFontSize":9,"labelColor":"#595959","labelPadding":4,"labelOverlap":false,"labelFlush":false,"labelBound":false,"ticks":false,"grid":false,"domainColor":"#d9d9d9"}},
"y":{"field":"v","type":"quantitative","title":"Number of NYC taxi passengers","scale":{"domain":[0,45000],"nice":false},
"axis":{"values":[0,5000,10000,15000,20000,25000,30000,35000,40000,45000],"format":"d","labelFontSize":8,"labelColor":"#595959","labelPadding":8,"ticks":false,"domain":false,"gridColor":"#d9d9d9","gridWidth":0.8,"titleFontSize":9,"titleFontWeight":"normal","titleColor":"#595959","titleX":-37,"titleY":118,"titleAngle":270,"titleAlign":"center","titleBaseline":"middle"}}
},
"layer":[
{"data":{"name":"main"},"mark":{"type":"line","color":"#000000","strokeWidth":0.85}},
{"data":{"name":"lo"},"mark":{"type":"point","filled":false,"size":28,"strokeWidth":1,"opacity":1},
"encoding":{"color":{"field":"m","type":"nominal","title":null,"scale":{"domain":["Anomaly","RePAD","ReRe","SARAD","GrammarViz 3.0","RDV","ADV"],"range":["#000000","#7030A0","#FFC000","#FF0000","#0070C0","#ED7D31","#00B050"]}},
"shape":{"field":"m","type":"nominal","title":null,"scale":{"domain":["Anomaly","RePAD","ReRe","SARAD","GrammarViz 3.0","RDV","ADV"],"range":["stroke","triangle-up","M-1,-1L1,1M-1,1L1,-1","M-1,-1L1,1M-1,1L1,-1M0,-1.2L0,1.2","square","diamond","M-1,0L1,0M0,-1L0,1"]}}}},
{"data":{"name":"sarad"},"mark":{"type":"line","color":"#FF0000","strokeWidth":1.2},"encoding":{"detail":{"field":"s","type":"nominal"}}},
{"data":{"name":"sarad"},"mark":{"type":"point","filled":false,"size":28,"strokeWidth":1,"opacity":1},
"encoding":{"color":{"field":"m","type":"nominal","title":null,"scale":{"domain":["Anomaly","RePAD","ReRe","SARAD","GrammarViz 3.0","RDV","ADV"],"range":["#000000","#7030A0","#FFC000","#FF0000","#0070C0","#ED7D31","#00B050"]}},
"shape":{"field":"m","type":"nominal","title":null,"scale":{"domain":["Anomaly","RePAD","ReRe","SARAD","GrammarViz 3.0","RDV","ADV"],"range":["stroke","triangle-up","M-1,-1L1,1M-1,1L1,-1","M-1,-1L1,1M-1,1L1,-1M0,-1.2L0,1.2","square","diamond","M-1,0L1,0M0,-1L0,1"]}}}},
{"data":{"name":"gv"},"mark":{"type":"line","color":"#0070C0","strokeWidth":1},"encoding":{"detail":{"field":"s","type":"nominal"}}},
{"data":{"name":"gv"},"mark":{"type":"point","shape":"square","filled":true,"color":"#0070C0","size":12,"opacity":1}},
{"data":{"name":"og"},"mark":{"type":"point","filled":false,"size":38,"strokeWidth":1,"opacity":1},
"encoding":{"color":{"field":"m","type":"nominal","title":null,"scale":{"domain":["Anomaly","RePAD","ReRe","SARAD","GrammarViz 3.0","RDV","ADV"],"range":["#000000","#7030A0","#FFC000","#FF0000","#0070C0","#ED7D31","#00B050"]}},
"shape":{"field":"m","type":"nominal","title":null,"scale":{"domain":["Anomaly","RePAD","ReRe","SARAD","GrammarViz 3.0","RDV","ADV"],"range":["stroke","triangle-up","M-1,-1L1,1M-1,1L1,-1","M-1,-1L1,1M-1,1L1,-1M0,-1.2L0,1.2","square","diamond","M-1,0L1,0M0,-1L0,1"]}}}}
]
}
